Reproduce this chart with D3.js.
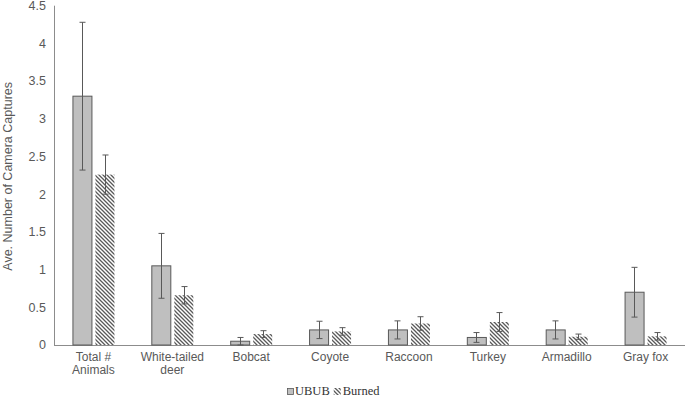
<!DOCTYPE html>
<html>
<head>
<meta charset="utf-8">
<script src="https://cdn.jsdelivr.net/npm/d3@7"></script>
<style>
  html, body { margin: 0; padding: 0; background: #fff; }
  svg { display: block; }
</style>
</head>
<body>
<svg id="chart" width="685" height="397"></svg>
<script>
const categories = ["Total # Animals", "White-tailed deer", "Bobcat", "Coyote", "Raccoon", "Turkey", "Armadillo", "Gray fox"];
const categoryLines = [["Total #", "Animals"], ["White-tailed", "deer"], ["Bobcat"], ["Coyote"], ["Raccoon"], ["Turkey"], ["Armadillo"], ["Gray fox"]];
const seriesNames = ["UBUB", "Burned"];
const ububValues = [3.30, 1.05, 0.05, 0.20, 0.20, 0.10, 0.20, 0.70];
const ububErrors = [0.98, 0.43, 0.05, 0.115, 0.12, 0.065, 0.12, 0.33];
const burnedValues = [2.26, 0.66, 0.145, 0.18, 0.285, 0.305, 0.11, 0.115];
const burnedErrors = [0.26, 0.115, 0.045, 0.05, 0.09, 0.125, 0.035, 0.05];
const yTicks = [0, 0.5, 1, 1.5, 2, 2.5, 3, 3.5, 4, 4.5];
const yTitle = "Ave. Number of Camera Captures";

const svg = d3.select("#chart");
const font = "'Liberation Sans', Arial, sans-serif";
const textColor = "#595959";

const defs = svg.append("defs");
const pat = defs.append("pattern")
  .attr("id", "hatch").attr("patternUnits", "userSpaceOnUse")
  .attr("width", 4).attr("height", 4);
pat.append("rect").attr("width", 4).attr("height", 4).attr("fill", "#fff");
pat.append("path").attr("d", "M-1,-1 L5,5 M-1,3 L1,5 M3,-1 L5,1")
  .attr("stroke", "#595959").attr("stroke-width", 1.3);

const x = d3.scaleBand().domain(categories).range([54, 685]).padding(0);
const y = d3.scaleLinear().domain([0, 4.5]).range([345, 5.7]);

const barW = 19, gap = 4;

// y tick labels
svg.append("g").selectAll("text").data(yTicks).join("text")
  .attr("x", 46).attr("y", d => y(d)).attr("dy", "0.35em")
  .attr("text-anchor", "end")
  .attr("font-family", font).attr("font-size", 12.5).attr("fill", textColor)
  .text(d => d3.format("")(d));

// axis lines
svg.append("line").attr("x1", 54.5).attr("x2", 54.5).attr("y1", y(4.5)).attr("y2", y(0))
  .attr("stroke", "#8c8c8c").attr("stroke-width", 1);
svg.append("line").attr("x1", 54).attr("x2", 685).attr("y1", y(0) + 0.5).attr("y2", y(0) + 0.5)
  .attr("stroke", "#8c8c8c").attr("stroke-width", 1);

// y title
svg.append("text")
  .attr("transform", `translate(8,${(y(0) + y(4.5)) / 2 + 1}) rotate(-90)`)
  .attr("text-anchor", "middle").attr("dy", "0.35em")
  .attr("font-family", font).attr("font-size", 12.5).attr("fill", textColor)
  .text(yTitle);

const groups = categories.map((c, i) => ({ c, i }));
const center = c => x(c) + x.bandwidth() / 2;

// UBUB bars
svg.append("g").selectAll("rect").data(groups).join("rect")
  .attr("x", d => center(d.c) - gap / 2 - barW + 0.5)
  .attr("y", d => y(ububValues[d.i]))
  .attr("width", barW)
  .attr("height", d => y(0) - y(ububValues[d.i]))
  .attr("fill", "#bfbfbf").attr("stroke", "#595959").attr("stroke-width", 1);

// Burned bars
svg.append("g").selectAll("rect").data(groups).join("rect")
  .attr("x", d => center(d.c) + gap / 2)
  .attr("y", d => y(burnedValues[d.i]))
  .attr("width", barW)
  .attr("height", d => y(0) - y(burnedValues[d.i]))
  .attr("fill", "url(#hatch)");

// error bars
function errBars(vals, errs, cxFn) {
  const g = svg.append("g").attr("stroke", "#595959").attr("stroke-width", 1).attr("fill", "none");
  groups.forEach(d => {
    const cx = Math.round(cxFn(d.c)) + 0.5;
    const top = y(vals[d.i] + errs[d.i]);
    const bot = y(Math.max(0, vals[d.i] - errs[d.i]));
    g.append("line").attr("x1", cx).attr("x2", cx).attr("y1", top).attr("y2", bot);
    g.append("line").attr("x1", cx - 3).attr("x2", cx + 3).attr("y1", top).attr("y2", top);
    g.append("line").attr("x1", cx - 3).attr("x2", cx + 3).attr("y1", bot).attr("y2", bot);
  });
}
errBars(ububValues, ububErrors, c => center(c) - gap / 2 - barW / 2);
errBars(burnedValues, burnedErrors, c => center(c) + gap / 2 + barW / 2);

// x labels
const xl = svg.append("g");
groups.forEach(d => {
  const t = xl.append("text")
    .attr("x", center(d.c)).attr("y", 361)
    .attr("text-anchor", "middle")
    .attr("font-family", font).attr("font-size", 12).attr("fill", textColor);
  categoryLines[d.i].forEach((ln, k) => {
    t.append("tspan").attr("x", center(d.c)).attr("dy", k === 0 ? 0 : 13).text(ln);
  });
});

// legend (laid out sequentially, centred)
const lg = svg.append("g").attr("font-family", "'Liberation Serif', 'Times New Roman', serif")
  .attr("font-size", 12.5).attr("fill", "#333");
let cx = 0;
lg.append("rect").attr("x", cx + 0.5).attr("y", 388.5).attr("width", 6).attr("height", 6)
  .attr("fill", "#bfbfbf").attr("stroke", "#595959").attr("stroke-width", 0.8);
cx += 8;
const t1 = lg.append("text").attr("x", cx).attr("y", 395).text(seriesNames[0]);
cx += t1.node().getComputedTextLength() + 4;
lg.append("rect").attr("x", cx).attr("y", 388).attr("width", 7).attr("height", 7)
  .attr("fill", "url(#hatch)");
cx += 9;
const t2 = lg.append("text").attr("x", cx).attr("y", 395).text(seriesNames[1]);
cx += t2.node().getComputedTextLength();
lg.attr("transform", `translate(${Math.round(333 - cx / 2)},0)`);
</script>
</body>
</html>
